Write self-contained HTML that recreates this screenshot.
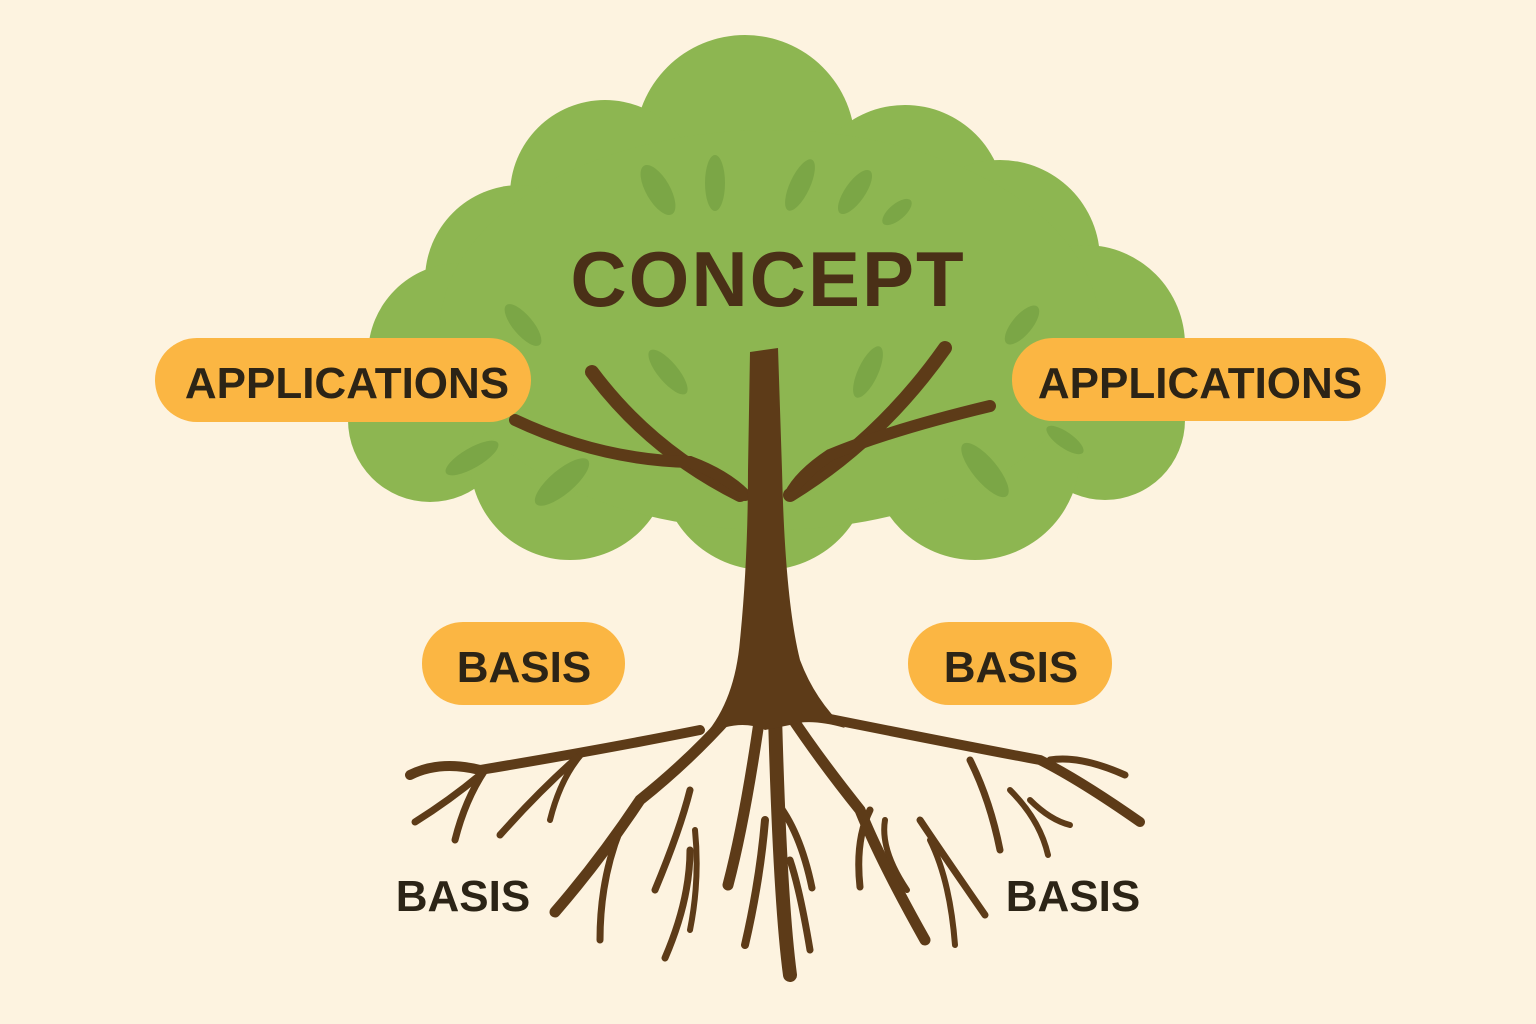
<!DOCTYPE html>
<html><head><meta charset="utf-8"><style>
html,body{margin:0;padding:0;background:#fdf3e0;}
svg{display:block}
text{font-family:"Liberation Sans",sans-serif;font-weight:bold;}
</style></head><body>
<svg width="1536" height="1024" viewBox="0 0 1536 1024" xmlns="http://www.w3.org/2000/svg">
<rect width="1536" height="1024" fill="#fdf3e0"/>
<g fill="#8db651">
<circle cx="745" cy="145" r="110"/>
<circle cx="605" cy="195" r="95"/>
<circle cx="905" cy="205" r="100"/>
<circle cx="1000" cy="260" r="100"/>
<circle cx="520" cy="280" r="95"/>
<circle cx="460" cy="355" r="92"/>
<circle cx="1085" cy="345" r="100"/>
<circle cx="430" cy="420" r="82"/>
<circle cx="1105" cy="420" r="80"/>
<circle cx="570" cy="460" r="100"/>
<circle cx="765" cy="465" r="105"/>
<circle cx="975" cy="455" r="105"/>
<ellipse cx="770" cy="330" rx="330" ry="200"/>
</g>
<g fill="#7ba646">
<ellipse cx="658" cy="190" rx="12" ry="28" transform="rotate(-30 658 190)"/>
<ellipse cx="715" cy="183" rx="10" ry="28"/>
<ellipse cx="800" cy="185" rx="10" ry="28" transform="rotate(25 800 185)"/>
<ellipse cx="855" cy="192" rx="10" ry="26" transform="rotate(35 855 192)"/>
<ellipse cx="897" cy="212" rx="8" ry="18" transform="rotate(50 897 212)"/>
<ellipse cx="523" cy="325" rx="10" ry="26" transform="rotate(-40 523 325)"/>
<ellipse cx="668" cy="372" rx="10" ry="28" transform="rotate(-40 668 372)"/>
<ellipse cx="868" cy="372" rx="10" ry="28" transform="rotate(25 868 372)"/>
<ellipse cx="1022" cy="325" rx="10" ry="24" transform="rotate(40 1022 325)"/>
<ellipse cx="472" cy="458" rx="10" ry="30" transform="rotate(60 472 458)"/>
<ellipse cx="562" cy="482" rx="12" ry="34" transform="rotate(50 562 482)"/>
<ellipse cx="985" cy="470" rx="12" ry="34" transform="rotate(-40 985 470)"/>
<ellipse cx="1065" cy="440" rx="8" ry="22" transform="rotate(-55 1065 440)"/>
</g>
<g stroke="#5d3b18" fill="none" stroke-linecap="round">
<path d="M592 372 Q650 450 740 495" stroke-width="14"/>
<path d="M515 420 Q600 460 690 462 Q725 475 745 495" stroke-width="12"/>
<path d="M945 348 Q880 440 790 495" stroke-width="14"/>
<path d="M990 406 Q890 430 830 455 Q800 475 790 495" stroke-width="12"/>
<path d="M410 775 Q440 760 480 770 Q600 750 700 730" stroke-width="10"/>
<path d="M415 822 Q450 800 480 775" stroke-width="7"/>
<path d="M455 840 Q465 800 485 770" stroke-width="7"/>
<path d="M500 835 Q540 790 580 755" stroke-width="7"/>
<path d="M550 820 Q560 780 580 756" stroke-width="6"/>
<path d="M555 912 Q600 860 640 800 Q690 760 730 715" stroke-width="11"/>
<path d="M600 940 Q600 880 620 830" stroke-width="7"/>
<path d="M655 890 Q680 830 690 790" stroke-width="7"/>
<path d="M665 958 Q690 900 690 850" stroke-width="7"/>
<path d="M690 930 Q700 880 695 830" stroke-width="6"/>
<path d="M728 885 Q745 820 760 715" stroke-width="11"/>
<path d="M745 945 Q760 880 765 820" stroke-width="8"/>
<path d="M790 975 Q780 900 775 715" stroke-width="14"/>
<path d="M812 888 Q800 830 775 800" stroke-width="7"/>
<path d="M810 950 Q800 890 790 860" stroke-width="7"/>
<path d="M925 940 Q880 860 860 810 Q820 760 790 715" stroke-width="11"/>
<path d="M860 887 Q855 840 870 810" stroke-width="7"/>
<path d="M907 890 Q880 850 885 820" stroke-width="6"/>
<path d="M985 915 Q940 850 920 820" stroke-width="7"/>
<path d="M955 945 Q950 880 930 840" stroke-width="6"/>
<path d="M1140 822 Q1080 780 1040 760 Q960 745 810 715" stroke-width="10"/>
<path d="M1125 775 Q1080 755 1050 760" stroke-width="7"/>
<path d="M1000 850 Q990 800 970 760" stroke-width="7"/>
<path d="M1048 855 Q1040 820 1010 790" stroke-width="6"/>
<path d="M1070 825 Q1050 820 1030 800" stroke-width="6"/>
</g>
<path d="M750 352 L778 348 L782 470 Q785 600 800 660 Q815 700 845 728 Q810 718 790 725 L765 730 Q740 718 705 735 Q735 700 740 640 Q748 560 748 470 Z" fill="#5d3b18"/>
<text x="768" y="306" text-anchor="middle" font-size="78" fill="#4a3017" letter-spacing="2">CONCEPT</text>
<g fill="#fbb643">
<rect x="155" y="338" width="376" height="84" rx="42"/>
<rect x="1012" y="338" width="374" height="83" rx="41"/>
<rect x="422" y="622" width="203" height="83" rx="41"/>
<rect x="908" y="622" width="204" height="83" rx="41"/>
</g>
<g fill="#2c2416" font-size="44" text-anchor="middle">
<text x="347" y="398">APPLICATIONS</text>
<text x="1200" y="398">APPLICATIONS</text>
<text x="524" y="682">BASIS</text>
<text x="1011" y="682">BASIS</text>
<text x="463" y="911">BASIS</text>
<text x="1073" y="911">BASIS</text>
</g>
</svg>
</body></html>
